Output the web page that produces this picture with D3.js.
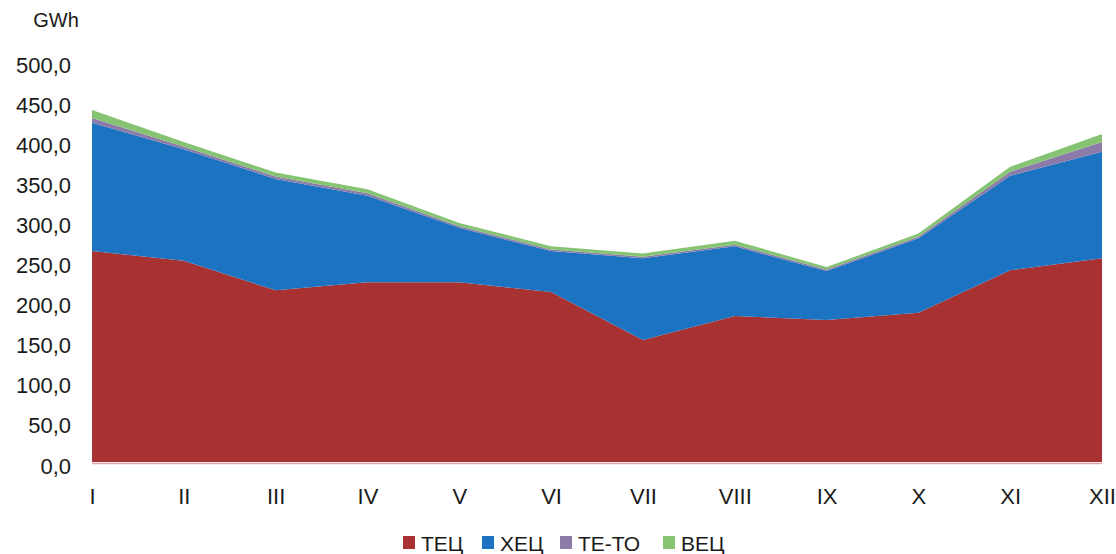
<!DOCTYPE html>
<html>
<head>
<meta charset="utf-8">
<script src="https://cdn.jsdelivr.net/npm/d3@7"></script>
<style>
  body { margin: 0; background: #fff; }
  text { font-family: Arial, "Liberation Sans", sans-serif; fill: #1a1a1a; }
</style>
</head>
<body>
<div id="chart"></div>
<script>
// months and series (GWh)
const months = ["I", "II", "III", "IV", "V", "VI", "VII", "VIII", "IX", "X", "XI", "XII"];
const tec = [263, 251, 214, 224, 224, 212, 152, 182, 177, 186, 239, 254];
const hec = [160, 139, 139, 108, 68, 51, 102, 87, 61, 93, 118, 133];
const teto = [6, 3, 3, 3, 2, 2, 2, 2, 2, 2, 5, 12];
const vec = [10, 6, 5, 5, 4, 4, 4, 5, 3, 4, 6, 10];
const seriesNames = ["ТЕЦ", "ХЕЦ", "ТЕ-ТО", "ВЕЦ"];
const seriesColors = ["#a83132", "#1b73c2", "#8c7aa9", "#86c474"];
const yTicks = [0, 50, 100, 150, 200, 250, 300, 350, 400, 450, 500];

const svgWidth = 1116;
const svgHeight = 554;
const margin = { top: 61, right: 14, bottom: 92, left: 92 };
const width = svgWidth - margin.left - margin.right;
const height = svgHeight - margin.top - margin.bottom;

const svg = d3.select("#chart")
  .append("svg")
  .attr("width", svgWidth)
  .attr("height", svgHeight);

const chartGroup = svg.append("g")
  .attr("transform", `translate(${margin.left}, ${margin.top})`);

// build rows for the stack
const rows = months.map((m, i) => ({
  month: m, "ТЕЦ": tec[i], "ХЕЦ": hec[i], "ТЕ-ТО": teto[i], "ВЕЦ": vec[i]
}));

const stacked = d3.stack().keys(seriesNames)(rows);

const xScale = d3.scalePoint()
  .domain(months)
  .range([0, width]);

const yScale = d3.scaleLinear()
  .domain([0, 500])
  .range([height, 0]);

const area = d3.area()
  .x(d => xScale(d.data.month))
  .y0(d => yScale(d[0]))
  .y1(d => yScale(d[1]));

chartGroup.selectAll("path.layer")
  .data(stacked)
  .enter()
  .append("path")
  .attr("class", "layer")
  .attr("d", area)
  .attr("fill", (d, i) => seriesColors[i]);

// baseline
chartGroup.append("line")
  .attr("x1", 0)
  .attr("x2", width)
  .attr("y1", yScale(0) + 1.5)
  .attr("y2", yScale(0) + 1.5)
  .attr("stroke", "#e8a0a8")
  .attr("stroke-width", 1.5);

// y axis labels
const leftAxis = d3.axisLeft(yScale)
  .tickValues(yTicks)
  .tickSize(0)
  .tickPadding(21)
  .tickFormat(d => d3.format(".1f")(d).replace(".", ","));

chartGroup.append("g")
  .call(leftAxis)
  .call(g => g.select(".domain").remove())
  .selectAll("text")
  .attr("y", 4)
  .style("font-size", "22px")
  .style("font-family", "Arial, 'Liberation Sans', sans-serif")
  .attr("fill", "#1a1a1a");

// x axis labels
const bottomAxis = d3.axisBottom(xScale)
  .tickSize(0)
  .tickPadding(26);

chartGroup.append("g")
  .attr("transform", `translate(0, ${height})`)
  .call(bottomAxis)
  .call(g => g.select(".domain").remove())
  .selectAll("text")
  .style("font-size", "22px")
  .style("font-family", "Arial, 'Liberation Sans', sans-serif")
  .attr("fill", "#1a1a1a");

// unit label
svg.append("text")
  .attr("x", 56)
  .attr("y", 27)
  .attr("text-anchor", "middle")
  .style("font-size", "20px")
  .text("GWh");

// legend
const legendX = [403, 482, 560, 663];
const legend = svg.append("g")
  .attr("transform", "translate(0, 543)");

seriesNames.forEach((name, i) => {
  legend.append("rect")
    .attr("x", legendX[i])
    .attr("y", -7)
    .attr("width", 12)
    .attr("height", 13)
    .attr("fill", seriesColors[i]);
  legend.append("text")
    .attr("x", legendX[i] + 18)
    .attr("y", 7.5)
    .style("font-size", "21px")
    .text(name);
});
</script>
</body>
</html>
